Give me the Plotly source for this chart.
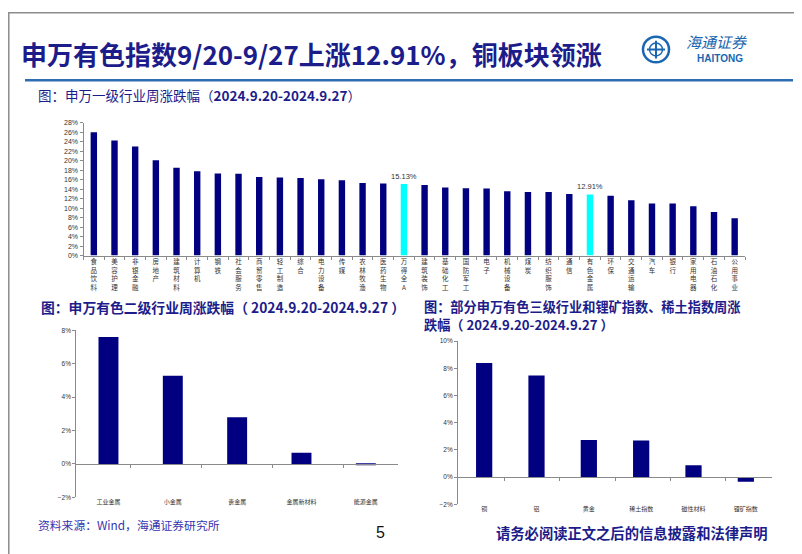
import plotly.graph_objects as go

W, H = 802, 554

# ---------------- data ----------------
top_cats = ["食品饮料", "美容护理", "非银金融", "房地产", "建筑材料", "计算机", "钢铁", "社会服务",
            "商贸零售", "轻工制造", "综合", "电力设备", "传媒", "农林牧渔", "医药生物", "万得全A",
            "建筑装饰", "基础化工", "国防军工", "电子", "机械设备", "煤炭", "纺织服饰", "通信",
            "有色金属", "环保", "交通运输", "汽车", "银行", "家用电器", "石油石化", "公用事业"]
top_vals = [26.0, 24.3, 23.0, 20.1, 18.55, 17.8, 17.3, 17.25,
            16.6, 16.5, 16.35, 16.1, 15.9, 15.3, 15.2, 15.13,
            14.9, 14.35, 14.2, 14.15, 13.6, 13.4, 13.4, 12.97,
            12.91, 12.6, 11.7, 11.0, 10.97, 10.4, 9.2, 7.9]
highlight = ["万得全A", "有色金属"]

l2_cats = ["工业金属", "小金属", "贵金属", "金属新材料", "能源金属"]
l2_vals = [7.59, 5.28, 2.79, 0.67, -0.05]

l3_cats = ["铜", "铝", "黄金", "稀土指数", "磁性材料", "锂矿指数"]
l3_vals = [8.39, 7.47, 2.74, 2.69, 0.87, -0.34]

# ---------------- styling ----------------
NAVY = "#000080"
CYAN = "#00FFFF"
TXT_BLUE = "#1c1c8a"
AX = "#8a8a8a"
LAT = "Liberation Sans, Arial, sans-serif"
CJK = "Noto Sans CJK SC, sans-serif"


def px(x):
    return x / W


def py(y):
    return 1 - y / H


def vert(s):
    return "<br>".join(list(s))


fig = go.Figure()

# top chart
fig.add_trace(go.Bar(
    x=[vert(c) for c in top_cats], y=[v / 100 for v in top_vals],
    marker=dict(color=[CYAN if c in highlight else NAVY for c in top_cats], line=dict(width=0)),
    text=[f"{v:.2f}%" if c in highlight else "" for c, v in zip(top_cats, top_vals)],
    textposition="outside", cliponaxis=False, constraintext="none",
    textfont=dict(family=LAT, size=7.5, color="#333333"),
    xaxis="x", yaxis="y", showlegend=False, hoverinfo="skip"))

# bottom-left
fig.add_trace(go.Bar(
    x=l2_cats, y=[v / 100 for v in l2_vals], marker=dict(color=NAVY, line=dict(width=0)),
    xaxis="x2", yaxis="y2", showlegend=False, hoverinfo="skip"))
fig.add_trace(go.Scatter(
    x=l2_cats, y=[0] * len(l2_cats), mode="markers", marker=dict(opacity=0, size=1),
    xaxis="x4", yaxis="y2", showlegend=False, hoverinfo="skip"))

# bottom-right
fig.add_trace(go.Bar(
    x=l3_cats, y=[v / 100 for v in l3_vals], marker=dict(color=NAVY, line=dict(width=0)),
    xaxis="x3", yaxis="y3", showlegend=False, hoverinfo="skip"))
fig.add_trace(go.Scatter(
    x=l3_cats, y=[0] * len(l3_cats), mode="markers", marker=dict(opacity=0, size=1),
    xaxis="x5", yaxis="y3", showlegend=False, hoverinfo="skip"))

tickfont_y = dict(family=LAT, size=7, color="#333333")

y2_dom = [py(491.5), py(322.3)]
y3_dom = [py(498.7), py(333.3)]
zero2 = y2_dom[0] + (y2_dom[1] - y2_dom[0]) * (2 / 10)
zero3 = y3_dom[0] + (y3_dom[1] - y3_dom[0]) * (2 / 12)

fig.update_layout(
    width=W, height=H, margin=dict(l=0, r=0, t=0, b=0),
    paper_bgcolor="white", plot_bgcolor="white",
    bargap=0.69,
    xaxis=dict(domain=[px(75.5), px(737)], anchor="y", type="category",
               showline=True, linecolor=AX, linewidth=1, ticks="outside", tickson="boundaries",
               ticklen=3, tickcolor=AX, showgrid=False,
               tickfont=dict(family=CJK, size=6.5, color="#333333"), tickangle=0),
    yaxis=dict(domain=[py(246.7), py(112.3)], anchor="x", range=[0, 0.28], dtick=0.02,
               tickformat=".0%", showline=True, linecolor=AX, ticks="outside", ticklen=3,
               tickcolor=AX, showgrid=False, zeroline=False, tickfont=tickfont_y),
    xaxis2=dict(domain=[px(68.3), px(390)], anchor="y2", type="category", showline=False,
                ticks="", showgrid=False, tickfont=dict(family=CJK, size=6, color="#333333")),
    yaxis2=dict(domain=y2_dom, anchor="x2", range=[-0.02, 0.08], dtick=0.02,
                tickformat=".0%", showline=True, linecolor=AX, ticks="outside", ticklen=3,
                tickcolor=AX, showgrid=False, zeroline=False,
                tickfont=dict(family=LAT, size=6.5, color="#333333")),
    xaxis4=dict(domain=[px(68.3), px(390)], anchor="free", position=zero2, overlaying="x2",
                type="category", showline=True, linecolor=AX, ticks="outside", tickson="boundaries",
                ticklen=3, tickcolor=AX, showticklabels=False, showgrid=False),
    xaxis3=dict(domain=[px(450), px(764)], anchor="y3", type="category", showline=False,
                ticks="", showgrid=False, tickfont=dict(family=CJK, size=6, color="#333333")),
    yaxis3=dict(domain=y3_dom, anchor="x3", range=[-0.02, 0.10], dtick=0.02,
                tickformat=".0%", showline=True, linecolor=AX, ticks="outside", ticklen=3,
                tickcolor=AX, showgrid=False, zeroline=False,
                tickfont=dict(family=LAT, size=6.5, color="#333333")),
    xaxis5=dict(domain=[px(450), px(764)], anchor="free", position=zero3, overlaying="x3",
                type="category", showline=True, linecolor=AX, ticks="outside", tickson="boundaries",
                ticklen=3, tickcolor=AX, showticklabels=False, showgrid=False),
)

LOGO = "#1a66b0"
shapes = [
    dict(type="rect", xref="paper", yref="paper", x0=px(0.8), x1=px(800.5), y0=py(551), y1=py(0.8),
         line=dict(color="#8c8c8c", width=1.5), fillcolor="rgba(0,0,0,0)", layer="above"),
    dict(type="line", xref="paper", yref="paper", x0=px(17), x1=px(785), y0=py(69), y1=py(69),
         line=dict(color="#2f6db3", width=2.5)),
    dict(type="circle", xref="paper", yref="paper", x0=px(635), x1=px(661), y0=py(51), y1=py(25),
         line=dict(color=LOGO, width=2.5)),
    dict(type="line", xref="paper", yref="paper", x0=px(648), x1=px(648), y0=py(47), y1=py(29),
         line=dict(color=LOGO, width=2)),
    dict(type="line", xref="paper", yref="paper", x0=px(639), x1=px(657), y0=py(38), y1=py(38),
         line=dict(color=LOGO, width=2)),
    dict(type="circle", xref="paper", yref="paper", x0=px(641.5), x1=px(654.5), y0=py(44.5), y1=py(31.5),
         line=dict(color=LOGO, width=1.5)),
]
fig.update_layout(shapes=shapes)

ann = []


def text(x, y, s, size, color, xanchor="left", bold=False, family=CJK):
    ann.append(dict(xref="paper", yref="paper", x=px(x), y=py(y), text=(f"<b>{s}</b>" if bold else s),
                    showarrow=False, xanchor=xanchor, yanchor="middle",
                    font=dict(family=family, size=size, color=color)))


text(11, 42, "申万有色指数9/20-9/27上涨12.91%，铜板块领涨", 26, TXT_BLUE, bold=True)
text(676, 30, "<i>海通证券</i>", 15, LOGO)
text(712, 47, "HAITONG", 10, LOGO, xanchor="center", bold=True, family=LAT)
text(28, 84, "图：申万一级行业周涨跌幅（<b>2024.9.20-2024.9.27</b>）", 13.5, TXT_BLUE)
text(31, 299, "图：申万有色二级行业周涨跌幅（ 2024.9.20-2024.9.27 ）", 13.8, TXT_BLUE, bold=True)
text(414, 298, "图：部分申万有色三级行业和锂矿指数、稀土指数周涨", 13.2, TXT_BLUE, bold=True)
text(414, 317, "跌幅（ 2024.9.20-2024.9.27 ）", 13.2, TXT_BLUE, bold=True)
text(28, 519, "资料来源：Wind，海通证券研究所", 11.8, "#3535b0")
text(372, 527, "5", 16, "#111111", xanchor="center", family=LAT)
text(486, 527, "请务必阅读正文之后的信息披露和法律声明", 14.3, TXT_BLUE, bold=True)

fig.update_layout(annotations=ann)

fig.write_html("out.html")
